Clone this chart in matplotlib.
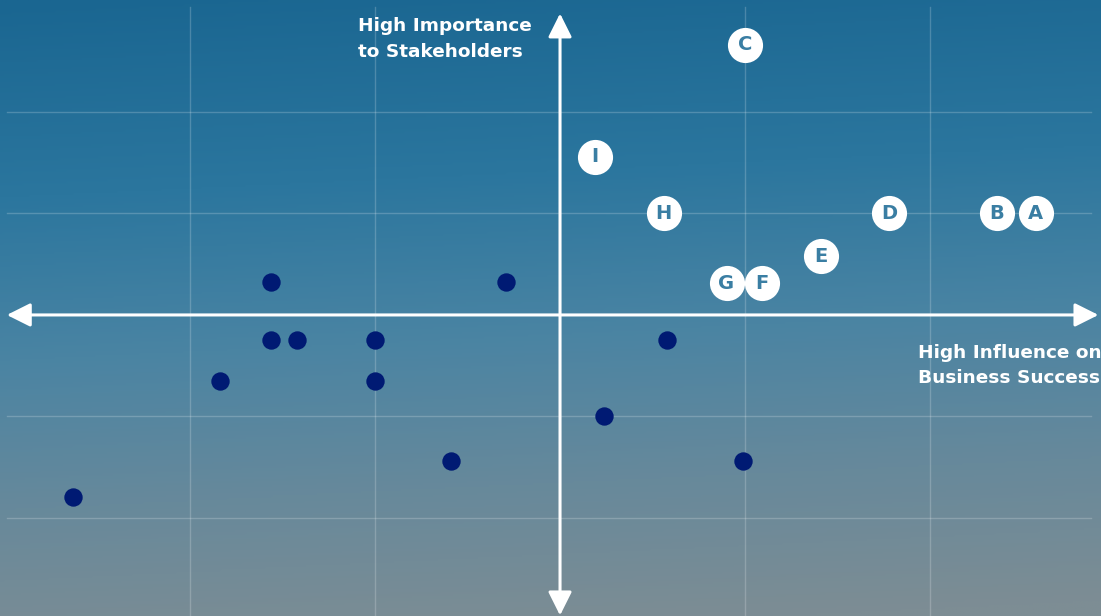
import numpy as np
import matplotlib.pyplot as plt
from matplotlib.colors import LinearSegmentedColormap

# lettered topics (influence on business, importance to stakeholders)
labels = ['A', 'B', 'C', 'D', 'E', 'F', 'G', 'H', 'I']
lab_x = [2.57, 2.36, 1.00, 1.78, 1.41, 1.09, 0.90, 0.56, 0.19]
lab_y = [1.00, 1.00, 2.66, 1.00, 0.58, 0.31, 0.31, 1.00, 1.56]

# other topics (unlabelled dots)
dot_x = [-1.56, -0.29, -1.56, -1.42, -1.00, 0.58, -1.84, -1.00, 0.24, -0.59, 0.99, -2.63]
dot_y = [0.32, 0.32, -0.25, -0.25, -0.25, -0.25, -0.65, -0.65, -1.00, -1.44, -1.44, -1.79]

grid_x = [-2, -1, 1, 2]
grid_y = [-2, -1, 1, 2]

x_lo, x_hi = -3.027, 2.924
y_lo, y_hi = -2.966, 3.103

plt.rcParams['font.family'] = ['DejaVu Sans']

fig = plt.figure(figsize=(11.01, 6.16), dpi=100)
ax = fig.add_axes([0, 0, 1, 1])
ax.set_xlim(x_lo, x_hi)
ax.set_ylim(y_lo, y_hi)
ax.axis('off')

# background gradient, dark blue at top fading to grey at the bottom
cmap = LinearSegmentedColormap.from_list('sky', [
    (0.0, '#1a6691'), (0.3, '#2b769e'), (0.55, '#4a84a3'),
    (0.78, '#67899b'), (1.0, '#7d8d94')])
rows = np.linspace(0, 1, 300)[:, None]
cols = np.linspace(0, 1, 300)[None, :]
grad = np.clip(rows * 0.94 + 0.08 * cols, 0, 1)
ax.imshow(grad, cmap=cmap, extent=[x_lo, x_hi, y_lo, y_hi], aspect='auto',
          origin='upper', zorder=0)
ax.set_xlim(x_lo, x_hi)
ax.set_ylim(y_lo, y_hi)

# faint grid
for gx in grid_x:
    ax.plot([gx, gx], [y_lo, 3.03], color='white', alpha=0.2, lw=1, zorder=1)
for gy in grid_y:
    ax.plot([-2.99, 2.87], [gy, gy], color='white', alpha=0.2, lw=1, zorder=1)

# axes arrows
ax.annotate('', xy=(-2.99, 0), xytext=(2.91, 0),
            arrowprops=dict(arrowstyle='<|-|>', color='white', lw=2.2,
                            mutation_scale=36, shrinkA=0, shrinkB=0), zorder=2)
ax.annotate('', xy=(0, 2.97), xytext=(0, -2.96),
            arrowprops=dict(arrowstyle='<|-|>', color='white', lw=2.2,
                            mutation_scale=36, shrinkA=0, shrinkB=0), zorder=2)

ax.text(-1.09, 2.72, 'High Importance\nto Stakeholders', color='white',
        fontsize=13.3, fontweight='bold', ha='left', va='center', linespacing=1.55)
ax.text(1.935, -0.5, 'High Influence on\nBusiness Success', color='white',
        fontsize=13.3, fontweight='bold', ha='left', va='center', linespacing=1.5)

# dots
ax.scatter(dot_x, dot_y, s=175, color='#001a73', zorder=3, linewidths=0)

# lettered circles
ax.scatter(lab_x, lab_y, s=640, color='white', zorder=3, linewidths=0)
for lab, x, y in zip(labels, lab_x, lab_y):
    ax.text(x, y, lab, color='#3a7ea3', fontsize=14, fontweight='bold',
            ha='center', va='center', zorder=4)

fig.savefig('out.png', dpi=100)
